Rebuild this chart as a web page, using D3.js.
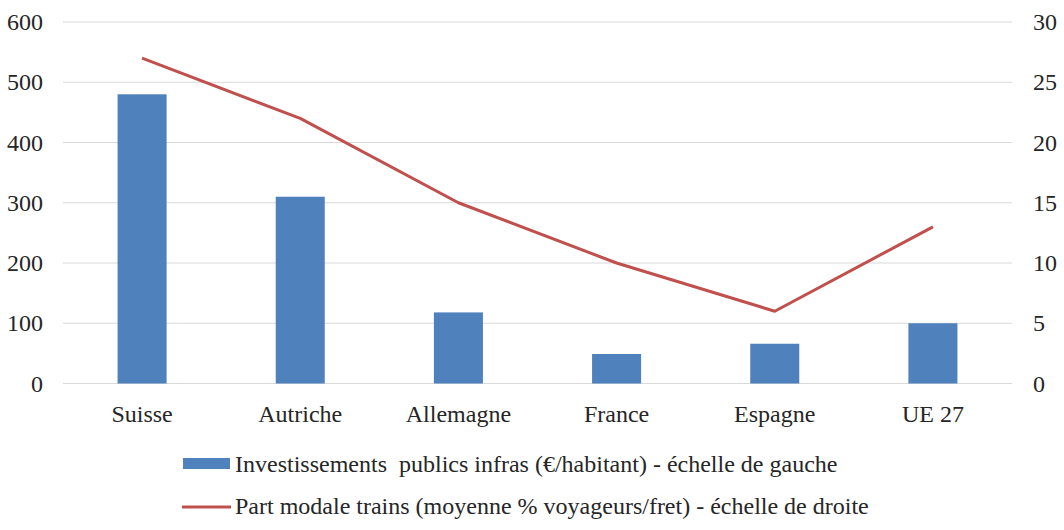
<!DOCTYPE html>
<html>
<head>
<meta charset="utf-8">
<script src="https://cdn.jsdelivr.net/npm/d3@7"></script>
<style>
  body { margin: 0; background: #fff; }
  text { font-family: "Liberation Serif", "Times New Roman", serif; fill: #262626; }
</style>
</head>
<body>
<script>
// data
const countries = ["Suisse", "Autriche", "Allemagne", "France", "Espagne", "UE 27"];
const investments = [480, 310, 118, 49, 66, 100];
const modalShare = [27, 22, 15, 10, 6, 13];
const leftTicks = [0, 100, 200, 300, 400, 500, 600];
const rightTicks = [0, 5, 10, 15, 20, 25, 30];
const legendLabels = [
  "Investissements  publics infras (€/habitant) - échelle de gauche",
  "Part modale trains (moyenne % voyageurs/fret) - échelle de droite"
];

// layout
const width = 1064;
const height = 530;
const plotLeft = 63;
const plotRight = 1012;
const plotTop = 22;
const plotBottom = 383.5;
const fontSize = "24px";
const barColor = "#4f81bd";
const lineColor = "#c0504d";

const svg = d3.select("body").append("svg")
  .attr("width", width)
  .attr("height", height);

const xScale = d3.scaleBand()
  .domain(countries)
  .range([plotLeft, plotRight])
  .paddingInner(0.69)
  .paddingOuter(0.345);

const yLeft = d3.scaleLinear().domain([0, 600]).range([plotBottom, plotTop]);
const yRight = d3.scaleLinear().domain([0, 30]).range([plotBottom, plotTop]);

function styleAxisText(g) {
  g.attr("font-family", null);
  g.select(".domain").remove();
  g.selectAll("text")
    .style("font-size", fontSize)
    .style("font-family", "'Liberation Serif', 'Times New Roman', serif")
    .attr("fill", "#262626");
}

// gridlines
svg.append("g")
  .selectAll("line")
  .data(leftTicks)
  .enter()
  .append("line")
  .attr("x1", plotLeft)
  .attr("x2", plotRight)
  .attr("y1", function(d) { return yLeft(d); })
  .attr("y2", function(d) { return yLeft(d); })
  .attr("stroke", "#d9d9d9")
  .attr("stroke-width", 1.2);

// left axis
svg.append("g")
  .attr("transform", "translate(" + (plotLeft - 20) + ",0)")
  .call(d3.axisLeft(yLeft).tickValues(leftTicks).tickSize(0).tickPadding(0))
  .call(styleAxisText);

// right axis
svg.append("g")
  .attr("transform", "translate(" + (plotRight + 21) + ",0)")
  .call(d3.axisRight(yRight).tickValues(rightTicks).tickSize(0).tickPadding(0))
  .call(styleAxisText);

// category axis
svg.append("g")
  .attr("transform", "translate(0," + plotBottom + ")")
  .call(d3.axisBottom(xScale).tickSize(0).tickPadding(21))
  .call(styleAxisText);

// bars
svg.append("g")
  .selectAll("rect")
  .data(investments)
  .enter()
  .append("rect")
  .attr("x", function(d, i) { return xScale(countries[i]); })
  .attr("y", function(d) { return yLeft(d); })
  .attr("width", xScale.bandwidth())
  .attr("height", function(d) { return plotBottom - yLeft(d); })
  .attr("fill", barColor);

// line
const line = d3.line()
  .x(function(d, i) { return xScale(countries[i]) + xScale.bandwidth() / 2; })
  .y(function(d) { return yRight(d); });

svg.append("path")
  .datum(modalShare)
  .attr("d", line)
  .attr("fill", "none")
  .attr("stroke", lineColor)
  .attr("stroke-width", 3)
  .attr("stroke-linejoin", "round");

// legend
const legend = svg.append("g");
legend.append("rect")
  .attr("x", 183)
  .attr("y", 458)
  .attr("width", 47)
  .attr("height", 11)
  .attr("fill", barColor);
legend.append("line")
  .attr("x1", 182)
  .attr("x2", 231)
  .attr("y1", 507)
  .attr("y2", 507)
  .attr("stroke", lineColor)
  .attr("stroke-width", 3);
legend.selectAll("text.legend")
  .data(legendLabels)
  .enter()
  .append("text")
  .attr("class", "legend")
  .attr("x", 235)
  .attr("y", function(d, i) { return 472 + i * 42; })
  .style("font-size", fontSize)
  .style("font-family", "'Liberation Serif', 'Times New Roman', serif")
  .style("white-space", "pre")
  .attr("xml:space", "preserve")
  .text(function(d) { return d; });
</script>
</body>
</html>
